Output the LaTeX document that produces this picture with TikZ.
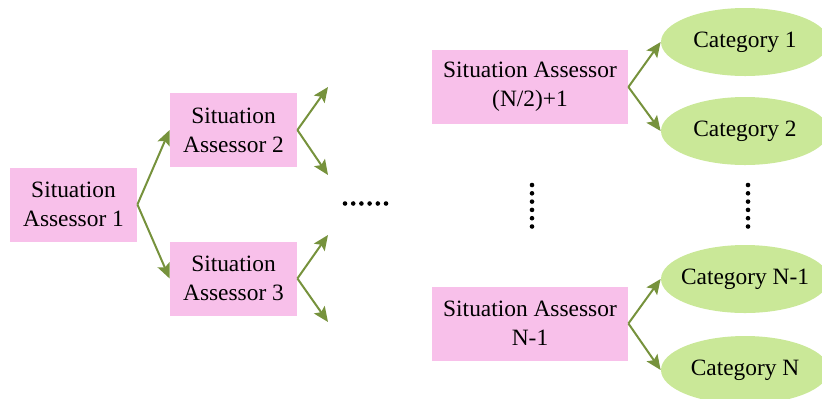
\documentclass[tikz,border=0pt]{standalone}
\usepackage{fontspec}
\setmainfont{Liberation Serif}
\usetikzlibrary{shapes,arrows.meta}
\definecolor{boxpink}{RGB}{248,192,234}
\definecolor{catgreen}{RGB}{202,232,152}
\definecolor{linkolive}{RGB}{118,146,60}

\begin{document}
\begin{tikzpicture}[x=0.5pt,y=-0.5pt]
	\tikzset{assessor/.style={fill=boxpink,align=center,inner sep=0pt,minimum height=37pt,font=\fontsize{11.7}{14.5}\selectfont}}
	\tikzset{category/.style={ellipse,fill=catgreen,inner sep=0pt,minimum width=84pt,minimum height=34pt,font=\fontsize{11.7}{14.5}\selectfont}}
	\tikzset{link/.style={draw=linkolive,line width=1pt,-{Stealth[length=7.5pt,width=6.5pt,inset=1.5pt]}}}
	\useasboundingbox (0,0) rectangle (822,398);
	\node[assessor,minimum width=63.5pt] (sa1) at (73.5,204.5) {Situation\\Assessor 1};
	\node[assessor,minimum width=63.5pt] (sa2) at (233.5,130) {Situation\\Assessor 2};
	\node[assessor,minimum width=63.5pt] (sa3) at (233.5,278.5) {Situation\\Assessor 3};
	\node[assessor,minimum width=98pt] (sahalf) at (530,87) {Situation Assessor\\(N/2)+1};
	\node[assessor,minimum width=98pt] (salast) at (530,323.5) {Situation Assessor\\N-1};
	\node[category] (cat1) at (745,42) {\makebox[0pt]{Category 1}};
	\node[category] (cat2) at (745,131) {\makebox[0pt]{Category 2}};
	\node[category] (catn1) at (745,279) {\makebox[0pt]{Category N-1}};
	\node[category] (catn) at (745,370) {\makebox[0pt]{Category N}};
	% open ends of the second level
	\coordinate (sa2up) at (328,87);
	\coordinate (sa2down) at (328,175);
	\coordinate (sa3up) at (328,235);
	\coordinate (sa3down) at (328,322);
	\draw[link] (sa1.east) -- (sa2.west);
	\draw[link] (sa1.east) -- (sa3.west);
	\draw[link] (sa2.east) -- (sa2up);
	\draw[link] (sa2.east) -- (sa2down);
	\draw[link] (sa3.east) -- (sa3up);
	\draw[link] (sa3.east) -- (sa3down);
	\draw[link] (sahalf.east) -- (cat1.west);
	\draw[link] (sahalf.east) -- (cat2.west);
	\draw[link] (salast.east) -- (catn1.west);
	\draw[link] (salast.east) -- (catn.west);
	% ellipsis dots
	\foreach \i in {0,...,5} {
		\fill (345+8.2*\i,203.5) circle (1.15pt);
		\fill (532,185+8.3*\i) circle (1.15pt);
		\fill (748,185+8.3*\i) circle (1.15pt);
	}
\end{tikzpicture}
\end{document}
